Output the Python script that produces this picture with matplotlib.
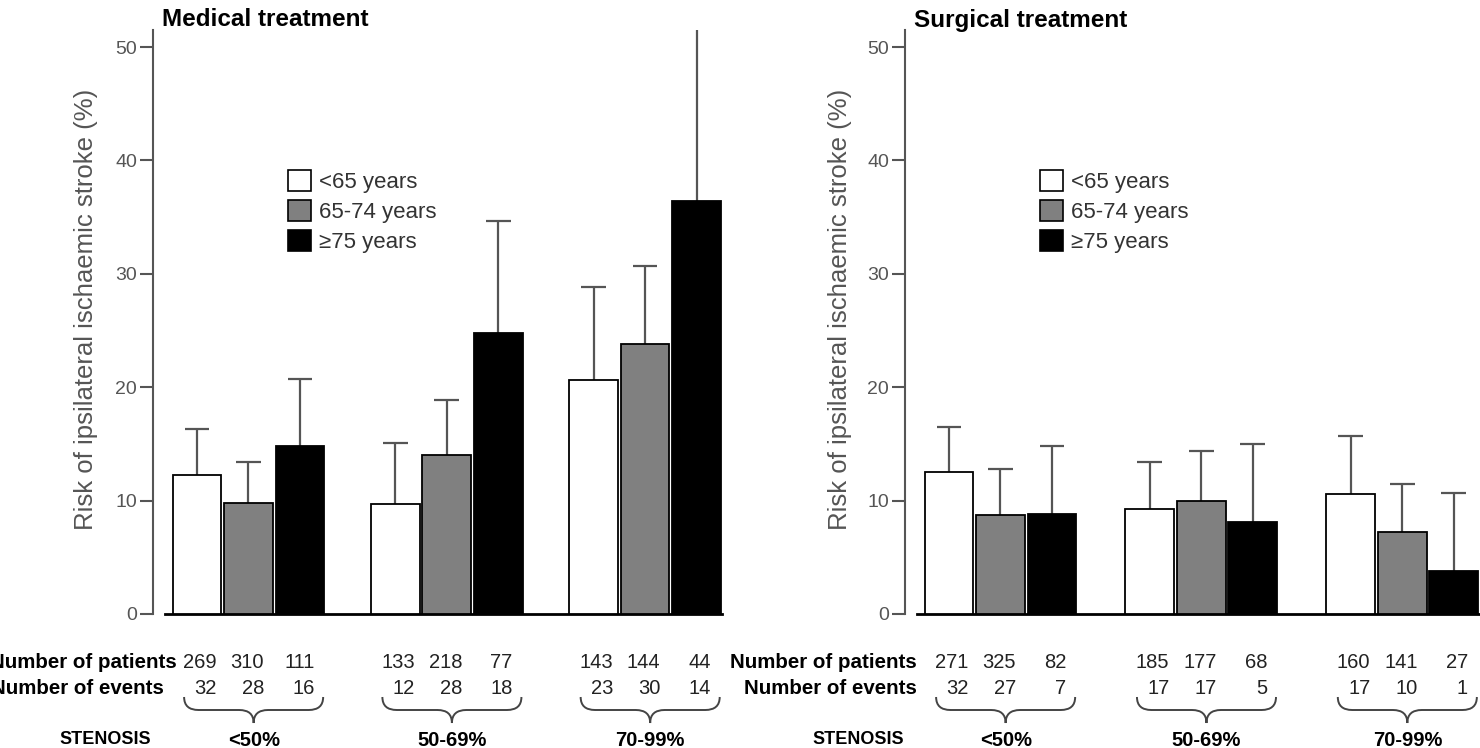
import matplotlib
matplotlib.use("Agg")
import matplotlib.pyplot as plt
from matplotlib import font_manager
from matplotlib.patches import Patch, PathPatch
from matplotlib.path import Path
from matplotlib.transforms import blended_transform_factory

# risk values (%) and upper confidence limits, per stenosis group and age band
stenosis = ["<50%", "50-69%", "70-99%"]
age_bands = ["<65 years", "65-74 years", "\u226575 years"]

med_risk = [[12.3, 9.8, 14.8], [9.7, 14.0, 24.8], [20.6, 23.8, 36.4]]
med_upper = [[16.3, 13.4, 20.7], [15.1, 18.9, 34.7], [28.8, 30.7, 51.9]]
med_patients = [[269, 310, 111], [133, 218, 77], [143, 144, 44]]
med_events = [[32, 28, 16], [12, 28, 18], [23, 30, 14]]

surg_risk = [[12.5, 8.7, 8.8], [9.3, 10.0, 8.1], [10.6, 7.2, 3.8]]
surg_upper = [[16.5, 12.8, 14.8], [13.4, 14.4, 15.0], [15.7, 11.5, 10.7]]
surg_patients = [[271, 325, 82], [185, 177, 68], [160, 141, 27]]
surg_events = [[32, 27, 7], [17, 17, 5], [17, 10, 1]]

yticks = [0, 10, 20, 30, 40, 50]
bar_colors = ["white", "#808080", "black"]

names = {f.name for f in font_manager.fontManager.ttflist}
narrow = "Liberation Sans Narrow" if "Liberation Sans Narrow" in names else "Liberation Sans"
plt.rcParams["font.family"] = ["Liberation Sans", "DejaVu Sans"]

W, H = 1480, 748
fig = plt.figure(figsize=(W / 100, H / 100), dpi=100)

UNIT = 51.5          # px per bar slot
Y0, YTOP = 614, 30   # px rows of y=0 and top of axis


def fx(px):
    return px / W


def fy(py):
    return 1 - py / H


def panel(left_px, xmax, pitch, title, risk, upper, patients, events,
          legend_px, label_px, rowlab_px, sten_px):
    xmin = -0.854
    width_px = (xmax - xmin) * UNIT
    ax = fig.add_axes([fx(left_px), fy(Y0), width_px / W, (Y0 - YTOP) / H])
    ax.set_xlim(xmin, xmax)
    ax.set_ylim(0, 51.5)

    starts = [g * pitch for g in range(3)]
    for k in range(3):
        xs = [s + k for s in starts]
        vals = [risk[g][k] for g in range(3)]
        ups = [upper[g][k] for g in range(3)]
        ax.bar(xs, vals, width=0.95, color=bar_colors[k], edgecolor="black",
               linewidth=1.3, zorder=3, clip_on=False)
        ax.vlines(xs, vals, ups, color="#555555", lw=1.6, zorder=2)
        ax.hlines(ups, [x - 0.24 for x in xs], [x + 0.24 for x in xs],
                  color="#555555", lw=1.6, zorder=2)

    for s in ["top", "right"]:
        ax.spines[s].set_visible(False)
    ax.spines["left"].set_color("#555555")
    ax.spines["left"].set_linewidth(1.5)
    ax.spines["bottom"].set_bounds(-0.62, xmax)
    ax.spines["bottom"].set_linewidth(2)
    ax.set_xticks([])
    ax.set_yticks(yticks)
    ax.tick_params(axis="y", length=9.5, width=1.5, color="#555555",
                   labelcolor="#555555", labelsize=14, pad=2)

    fig.text(fx(left_px + 9), fy(20), title, fontsize=17.5, weight="bold",
             va="center", ha="left")
    fig.text(fx(label_px), fy(309), "Risk of ipsilateral ischaemic stroke (%)",
             rotation=90, color="#555555", fontsize=18.5, ha="center", va="center")

    handles = [Patch(facecolor=c, edgecolor="black", linewidth=1.2) for c in bar_colors]
    ax.legend(handles, age_bands, loc="upper left",
              bbox_to_anchor=(fx(legend_px), fy(170)), bbox_transform=fig.transFigure,
              frameon=False, borderpad=0, borderaxespad=0, fontsize=16,
              handlelength=1.05, handleheight=1.05, labelspacing=0.33,
              handletextpad=0.35, labelcolor="#333333")

    # numbers table under the bars
    tr = blended_transform_factory(ax.transData, fig.transFigure)
    col_off = [0.38, 1.30, 2.28]
    for g, s in enumerate(starts):
        for k in range(3):
            ax.text(s + col_off[k], fy(662), str(patients[g][k]), transform=tr,
                    ha="right", va="center", fontsize=14.5, family=narrow,
                    color="#222222")
            ax.text(s + col_off[k], fy(688), str(events[g][k]), transform=tr,
                    ha="right", va="center", fontsize=14.5, family=narrow,
                    color="#222222")
        # curly brace
        x0, x1, xm, r = s - 0.25, s + 2.45, s + 1.1, 0.28
        yt, ym, yb = fy(697), fy(710), fy(723)
        verts = [(x0, yt), (x0, ym), (x0 + r, ym), (xm - r, ym), (xm, ym), (xm, yb),
                 (xm, ym), (xm + r, ym), (x1 - r, ym), (x1, ym), (x1, yt)]
        codes = [Path.MOVETO, Path.CURVE3, Path.CURVE3, Path.LINETO, Path.CURVE3,
                 Path.CURVE3, Path.CURVE3, Path.CURVE3, Path.LINETO, Path.CURVE3,
                 Path.CURVE3]
        ax.add_patch(PathPatch(Path(verts, codes), transform=tr, fill=False,
                               edgecolor="#444444", lw=1.4, clip_on=False))
        ax.text(xm, fy(740), stenosis[g], transform=tr, ha="center", va="center",
                fontsize=14.5, weight="bold")

    fig.text(fx(rowlab_px[0]), fy(662), "Number of patients", ha="right",
             va="center", fontsize=14.8, weight="bold")
    fig.text(fx(rowlab_px[1]), fy(688), "Number of events", ha="right",
             va="center", fontsize=14.8, weight="bold")
    fig.text(fx(sten_px), fy(740), "STENOSIS", ha="right", va="center",
             fontsize=13, weight="bold")
    return ax


panel(153, 10.2, 3.85, "Medical treatment", med_risk, med_upper, med_patients,
      med_events, 288, 86, (177, 164), 151)
panel(905, 10.31, 3.9, "Surgical treatment", surg_risk, surg_upper, surg_patients,
      surg_events, 1040, 840, (917, 917), 904)

fig.savefig("out.png", dpi=100)
